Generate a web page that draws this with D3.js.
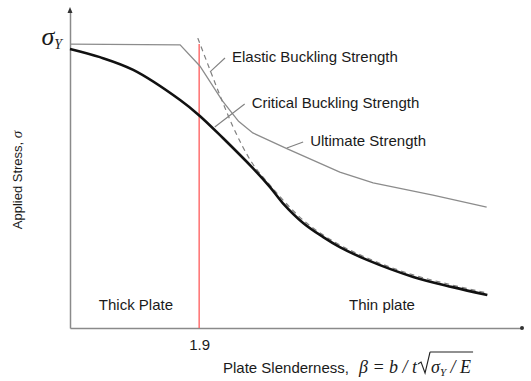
<!DOCTYPE html>
<html>
<head>
<meta charset="UTF-8">
<title>Plate buckling strength</title>
<script src="https://cdn.jsdelivr.net/npm/d3@7"></script>
<style>
  body { margin: 0; background: #fff; }
  .lbl { font-family: "Liberation Sans", Arial, sans-serif; font-size: 15px; fill: #1a1a1a; }
  .math { font-family: "Liberation Serif", "Times New Roman", serif; font-style: italic; fill: #1a1a1a; }
</style>
</head>
<body>
<svg id="chart" width="531" height="381"></svg>
<script>
// values: [beta, sigma / sigmaY]
const ultimate = [[0, 1.0], [1.62, 0.997], [1.91, 0.923], [2.24, 0.801], [2.48, 0.728],
  [2.69, 0.687], [3.19, 0.632], [3.97, 0.549], [4.46, 0.511], [5.34, 0.468], [6.13, 0.426]];
const critical = [[0, 0.983], [0.44, 0.954], [0.93, 0.909], [1.62, 0.803], [1.91, 0.747],
  [2.25, 0.669], [2.69, 0.563], [2.94, 0.497], [3.13, 0.440], [3.43, 0.370], [3.72, 0.321],
  [3.97, 0.285], [4.37, 0.240], [5.05, 0.180], [5.63, 0.144], [6.14, 0.116]];
const elastic = [[1.88, 1.021], [2.06, 0.909], [2.25, 0.793], [2.40, 0.708], [2.68, 0.581],
  [2.94, 0.504], [3.43, 0.380], [3.87, 0.306], [4.37, 0.247], [5.05, 0.187], [5.63, 0.151], [6.14, 0.123]];
const betaLimit = 1.9;
const xTicks = [1.9];
const regionLabels = [{text: "Thick Plate", beta: 0.97}, {text: "Thin plate", beta: 4.59}];
// callouts: leader from curve point to label point
const callouts = [
  {text: "Elastic Buckling Strength", from: [2.06, 0.902], to: [2.28, 0.951]},
  {text: "Critical Buckling Strength", from: [2.13, 0.708], to: [2.57, 0.789]},
  {text: "Ultimate Strength", from: [3.19, 0.634], to: [3.43, 0.655]}
];

const svg = d3.select("#chart");
const x = d3.scaleLinear().domain([0, 6.65]).range([70, 522]);
const y = d3.scaleLinear().domain([0, 1.12]).range([328, 10]);
const axisColor = "#8a8a8a";

// axes
const gx = svg.append("g").attr("transform", `translate(0,${y(0)})`)
  .call(d3.axisBottom(x).tickValues(xTicks).tickSize(0).tickPadding(11).tickFormat(d3.format(".1f")));
gx.select(".domain").attr("stroke", axisColor).attr("stroke-width", 1.5);
gx.selectAll("text").attr("class", "lbl").attr("font-size", null).attr("font-family", null);

const gy = svg.append("g").attr("transform", `translate(${x(0)},0)`)
  .call(d3.axisLeft(y).tickValues([]).tickSizeOuter(0));
gy.select(".domain").attr("stroke", axisColor).attr("stroke-width", 1.5);

svg.append("path")
  .attr("d", `M${x(0)},${y(1.12) - 3}l-2.5,6h5z`)
  .attr("fill", "#333");
svg.append("circle").attr("cx", x(6.65)).attr("cy", y(0)).attr("r", 2).attr("fill", "#333");

// yield level label
const sy = svg.append("text").attr("class", "math")
  .attr("x", x(0) - 8).attr("y", y(1) + 1).attr("text-anchor", "end");
sy.append("tspan").attr("font-size", 26).text("σ");
sy.append("tspan").attr("font-size", 14).attr("dy", 4).text("Y");

// limit line
svg.append("line")
  .attr("x1", x(betaLimit)).attr("x2", x(betaLimit))
  .attr("y1", y(1.0)).attr("y2", y(0))
  .attr("stroke", "#ff4d4d").attr("stroke-width", 1.2);

const line = d3.line().x(d => x(d[0])).y(d => y(d[1]));

svg.append("path").datum(ultimate)
  .attr("d", line.curve(d3.curveLinear))
  .attr("fill", "none").attr("stroke", "#8c8c8c").attr("stroke-width", 1.3);

svg.append("path").datum(elastic)
  .attr("d", line.curve(d3.curveMonotoneX))
  .attr("fill", "none").attr("stroke", "#808080").attr("stroke-width", 1.2)
  .attr("stroke-dasharray", "5,4");

svg.append("path").datum(critical)
  .attr("d", line.curve(d3.curveCatmullRom))
  .attr("fill", "none").attr("stroke", "#111").attr("stroke-width", 2.6);

// callouts
callouts.forEach(c => {
  svg.append("line")
    .attr("x1", x(c.from[0])).attr("y1", y(c.from[1]))
    .attr("x2", x(c.to[0])).attr("y2", y(c.to[1]))
    .attr("stroke", "#808080").attr("stroke-width", 1.1);
  svg.append("text").attr("class", "lbl")
    .attr("x", x(c.to[0]) + 7).attr("y", y(c.to[1]))
    .attr("dominant-baseline", "middle")
    .text(c.text);
});

// region labels
svg.selectAll(".region").data(regionLabels).join("text")
  .attr("class", "lbl region")
  .attr("x", d => x(d.beta)).attr("y", y(0.077))
  .attr("text-anchor", "middle").attr("dominant-baseline", "middle")
  .text(d => d.text);

// y axis title
svg.append("text").attr("class", "lbl")
  .attr("transform", "translate(22,180) rotate(-90)")
  .attr("text-anchor", "middle")
  .style("font-size", "13px")
  .html('Applied Stress, <tspan class="math" font-size="15">σ</tspan>');

// x axis title with formula
const tx = svg.append("text").attr("class", "lbl").attr("x", 223).attr("y", 373)
  .text("Plate Slenderness,");
let cx = 223 + tx.node().getComputedTextLength() + 10;
const f1 = svg.append("text").attr("class", "math").attr("x", cx).attr("y", 373)
  .attr("font-size", 18).text("β = b / t");
cx += f1.node().getComputedTextLength();
// radical sign
svg.append("path")
  .attr("d", `M${cx + 1},${364}l3,-2l4,11l5,-21`)
  .attr("fill", "none").attr("stroke", "#222").attr("stroke-width", 1.1);
const f2 = svg.append("text").attr("class", "math").attr("x", cx + 14).attr("y", 373).attr("font-size", 18);
f2.append("tspan").text("σ");
f2.append("tspan").attr("font-size", 11).attr("dy", 3).text("Y");
f2.append("tspan").attr("dy", -3).text(" / E");
const w2 = f2.node().getComputedTextLength();
svg.append("line")
  .attr("x1", cx + 13).attr("x2", cx + 16 + w2)
  .attr("y1", 352).attr("y2", 352)
  .attr("stroke", "#222").attr("stroke-width", 1.1);
</script>
</body>
</html>
